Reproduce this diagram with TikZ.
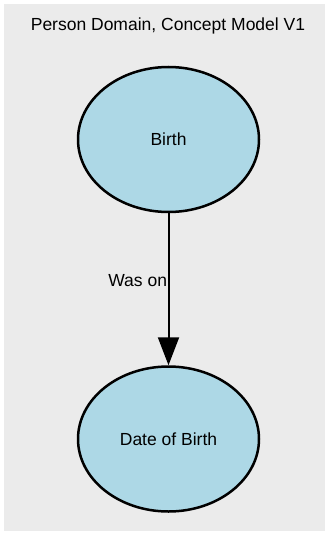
\documentclass[tikz,border=0pt]{standalone}
\usepackage{fontspec}
\setmainfont{Liberation Sans}
\usepackage{tikz}
\usetikzlibrary{shapes.geometric,arrows.meta}
\definecolor{panelgray}{HTML}{EBEBEB}
\definecolor{conceptblue}{HTML}{ADD8E6}
\tikzstyle{concept} = [ellipse,draw=black,line width=2.5pt,fill=conceptblue,minimum width=181pt,minimum height=145pt,inner sep=0pt,font=\fontsize{17.5}{21}\selectfont]
\tikzstyle{arrow} = [line width=2pt,-{Triangle[length=28pt,width=21pt]}]

\begin{document}
\begin{tikzpicture}[x=1pt,y=-1pt]
	\useasboundingbox (0,0) rectangle (329,535);
	\fill[panelgray] (4,4) rectangle (325,531);
	\node (title) [font=\fontsize{17.5}{21}\selectfont] at (168,26) {Person Domain, Concept Model V1};
	\node[concept] (birth) at (168.5,139.5) {Birth};
	\node[concept] (dob) at (168.5,439) {Date of Birth};
	\draw[arrow] (birth) -- (dob) node (wason) [pos=0.44,left,inner sep=0.5pt,font=\fontsize{17.5}{21}\selectfont] {Was on};
\end{tikzpicture}
\end{document}
